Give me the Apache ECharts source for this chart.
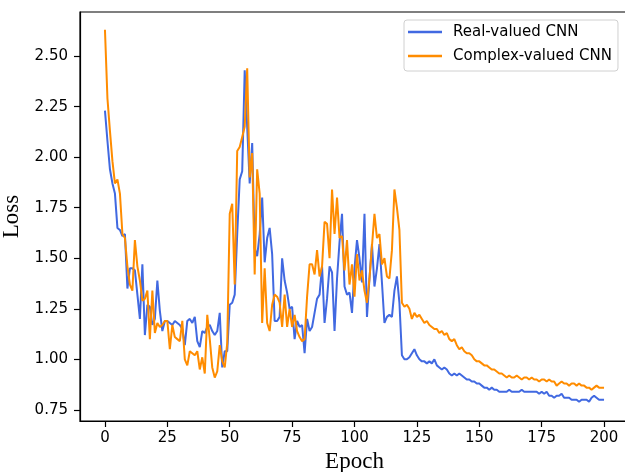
<!DOCTYPE html>
<html>
<head>
<meta charset="utf-8">
<script src="https://cdn.jsdelivr.net/npm/echarts@6/dist/echarts.min.js"></script>
<style>
html,body{margin:0;padding:0;background:#fff;}
#chart{width:625px;height:472px;}
</style>
</head>
<body>
<div id="chart"></div>
<script>
const seriesNames = ['Real-valued CNN', 'Complex-valued CNN'];
const epochs = Array.from({length: 201}, (_, i) => i);
const xTicks = [0, 25, 50, 75, 100, 125, 150, 175, 200];
const yTicks = [0.75, 1.00, 1.25, 1.50, 1.75, 2.00, 2.25, 2.50];

const realLoss = [
2.23,2.08,1.94,1.87,1.82,1.65,1.64,1.61,1.62,1.35,
1.45,1.45,1.44,1.32,1.20,1.47,1.12,1.27,1.26,1.17,
1.20,1.39,1.24,1.14,1.19,1.19,1.18,1.17,1.19,1.18,
1.17,1.15,1.07,1.19,1.20,1.18,1.21,1.09,1.06,1.14,
1.13,1.16,1.17,1.14,1.12,1.14,1.23,0.96,1.04,1.04,
1.27,1.28,1.32,1.62,1.89,1.93,2.43,2.15,1.87,2.07,
1.55,1.51,1.62,1.80,1.48,1.60,1.65,1.52,1.19,1.19,
1.21,1.50,1.39,1.33,1.25,1.26,1.10,1.19,1.16,1.17,
1.03,1.20,1.14,1.16,1.23,1.30,1.32,1.46,1.18,1.30,
1.46,1.43,1.14,1.40,1.58,1.72,1.36,1.32,1.33,1.23,
1.45,1.59,1.50,1.38,1.72,1.21,1.40,1.57,1.36,1.45,
1.57,1.38,1.18,1.21,1.22,1.21,1.34,1.41,1.28,1.02,
1.00,1.00,1.01,1.03,1.05,1.02,1.00,0.99,0.99,0.98,
0.99,0.98,1.00,0.97,0.96,0.95,0.96,0.95,0.93,0.92,
0.93,0.92,0.93,0.92,0.91,0.90,0.90,0.89,0.89,0.88,
0.88,0.87,0.86,0.86,0.85,0.86,0.85,0.85,0.84,0.84,
0.84,0.84,0.85,0.84,0.84,0.84,0.84,0.85,0.84,0.84,
0.84,0.84,0.84,0.84,0.83,0.84,0.83,0.84,0.82,0.82,
0.81,0.82,0.82,0.83,0.81,0.81,0.81,0.80,0.80,0.80,
0.79,0.80,0.80,0.80,0.79,0.81,0.82,0.81,0.80,0.80,
0.80
];

const complexLoss = [
2.63,2.29,2.13,1.98,1.87,1.89,1.82,1.62,1.60,1.46,
1.37,1.34,1.59,1.46,1.39,1.29,1.30,1.34,1.10,1.34,
1.13,1.18,1.16,1.17,1.19,1.19,1.05,1.17,1.11,1.10,
1.09,1.19,1.00,0.97,1.04,1.03,1.02,1.04,0.95,1.01,
0.93,1.22,1.10,0.96,0.91,0.94,1.07,0.99,0.96,1.08,
1.72,1.77,1.37,2.03,2.05,2.10,2.15,2.44,1.90,2.02,
1.42,1.94,1.82,1.18,1.45,1.18,1.14,1.27,1.32,1.31,
1.28,1.16,1.32,1.16,1.25,1.16,1.22,1.14,1.11,1.09,
1.10,1.31,1.47,1.47,1.42,1.54,1.41,1.46,1.68,1.67,
1.50,1.84,1.62,1.80,1.60,1.61,1.44,1.59,1.37,1.47,
1.31,1.52,1.39,1.44,1.34,1.28,1.40,1.56,1.72,1.60,
1.62,1.47,1.50,1.41,1.40,1.54,1.84,1.75,1.64,1.28,
1.26,1.27,1.25,1.20,1.23,1.21,1.22,1.20,1.18,1.19,
1.17,1.16,1.15,1.15,1.13,1.14,1.12,1.13,1.10,1.09,
1.10,1.07,1.05,1.06,1.04,1.03,1.03,1.02,1.00,0.99,
0.99,0.98,0.97,0.97,0.96,0.95,0.95,0.94,0.93,0.93,
0.92,0.91,0.92,0.91,0.91,0.92,0.91,0.90,0.91,0.91,
0.90,0.91,0.90,0.90,0.89,0.90,0.90,0.89,0.90,0.89,
0.89,0.87,0.88,0.89,0.88,0.88,0.87,0.88,0.88,0.87,
0.88,0.87,0.87,0.86,0.86,0.85,0.86,0.87,0.86,0.86,
0.86
];

const colors = ['#4169E1', '#FF8C00'];
const tickFont = 'DejaVu Sans';
const nameFont = 'Liberation Serif';

const chart = echarts.init(document.getElementById('chart'), null, {renderer: 'canvas'});
chart.setOption({
  animation: false,
  backgroundColor: '#fff',
  grid: {
    left: 80, top: 12, width: 549, height: 409,
    containLabel: false, outerBoundsMode: 'none',
    show: true, borderColor: '#000', borderWidth: 1.2, backgroundColor: 'transparent'
  },
  legend: {
    orient: 'vertical',
    left: 404, top: 20,
    padding: [3, 6, 6, 4],
    icon: 'rect',
    itemWidth: 34, itemHeight: 2.5, itemGap: 6,
    backgroundColor: '#fff',
    borderColor: '#d0d0d0', borderWidth: 1, borderRadius: 3,
    textStyle: {fontFamily: tickFont, fontSize: 15, color: '#000', lineHeight: 18, padding: [0, 0, 0, 6]},
    data: seriesNames
  },
  xAxis: {
    type: 'value', min: -10, max: 210,
    name: 'Epoch', nameLocation: 'middle', nameGap: 28,
    nameTextStyle: {fontFamily: nameFont, fontSize: 23, color: '#000'},
    axisLine: {show: true, onZero: false, lineStyle: {color: '#000', width: 1.2}},
    axisTick: {show: true, length: 6, customValues: xTicks, lineStyle: {color: '#000', width: 1.2}},
    axisLabel: {customValues: xTicks, margin: 10, fontFamily: tickFont, fontSize: 15, color: '#000'},
    splitLine: {show: false}
  },
  yAxis: {
    type: 'value', min: 0.695, max: 2.718,
    name: 'Loss', nameLocation: 'middle', nameGap: 48,
    nameTextStyle: {fontFamily: nameFont, fontSize: 23, color: '#000'},
    axisLine: {show: true, onZero: false, lineStyle: {color: '#000', width: 1.2}},
    axisTick: {show: true, length: 6, customValues: yTicks, lineStyle: {color: '#000', width: 1.2}},
    axisLabel: {customValues: yTicks, margin: 12, fontFamily: tickFont, fontSize: 15, color: '#000',
      formatter: v => v.toFixed(2)},
    splitLine: {show: false}
  },
  series: [
    {
      name: seriesNames[0], type: 'line', showSymbol: false, symbol: 'none',
      data: epochs.map((e, i) => [e, realLoss[i]]),
      lineStyle: {color: colors[0], width: 2}, itemStyle: {color: colors[0]}
    },
    {
      name: seriesNames[1], type: 'line', showSymbol: false, symbol: 'none',
      data: epochs.map((e, i) => [e, complexLoss[i]]),
      lineStyle: {color: colors[1], width: 2}, itemStyle: {color: colors[1]}
    }
  ]
});
</script>
</body>
</html>
